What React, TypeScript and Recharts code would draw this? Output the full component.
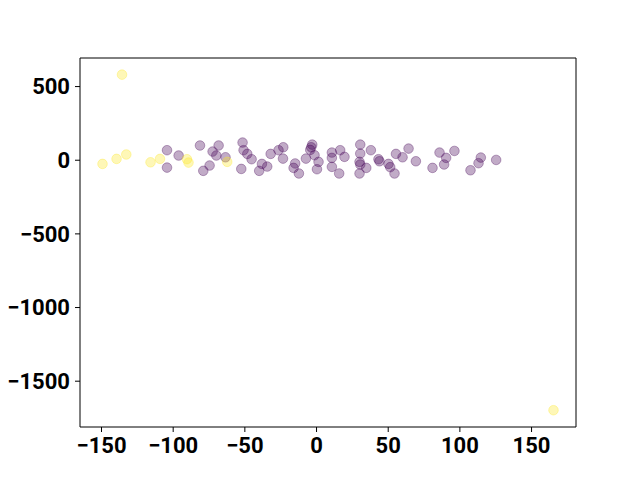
import React from 'react';
import { ScatterChart, Scatter, XAxis, YAxis, ReferenceLine } from 'recharts';

const purpleX = [-104.3, -104.3, -96.2, -81.3, -79, -74.6, -72.5, -69.9, -68.3, -63.5, -52.5, -51.6, -50.9, -48.3, -45.3, -40, -38.1, -34.4, -32, -26.5, -23.2, -23.4, -14.9, -16, -12.3, -7.4, -4.4, -3, -1.4, 1.4, 0.3, 10.7, 10.7, 10.7, 16.5, 19.5, 15.8, 30.5, 30.5, 30, 30.5, 34.7, 30, 37.9, 43.2, 43.9, 50.2, 51.4, 54.4, 55.4, 60, 64.2, 69.3, 80.9, 85.8, 90.4, 89, 96.2, 107.4, 113, 114.6, 125.3, -3.7];
const purpleY = [68, -50, 32, 100, -72, -36, 59, 32, 100, 20, -59, 120, 68, 43, 7, -72, -25, -43, 43, 68, 88, 11, -22, -52, -90, 11, 70, 106, 34, -11, -61, 52, 16, -45, 68, 23, -90, 106, 45, -11, -29, -52, -90, 68, 7, -7, -25, -47, -90, 43, 20, 79, -7, -52, 52, 16, -29, 63, -68, -20, 18, 2, 88];
const yellowX = [-149.3, -139.5, -132.7, -115.8, -109.2, -90.4, -89.3, -62.3, -135.7, 165.3];
const yellowY = [-25, 9, 39, -14, 9, 7, -16, -11, 581, -1697];

const xTicks = [-150, -100, -50, 0, 50, 100, 150];
const yTicks = [-1500, -1000, -500, 0, 500];
const xDomain = [-165, 181];
const yDomain = [-1811, 694];

const purpleData = purpleX.map((x, i) => ({ x, y: purpleY[i] }));
const yellowData = yellowX.map((x, i) => ({ x, y: yellowY[i] }));

const tickStyle = { fontFamily: 'Roboto', fontWeight: 700, fontSize: 22, fill: '#000' };
const fmt = (v: number) => String(v).replace('-', '\u2212');

const makeDot = (color: string) => (props: any) => (
  <circle cx={props.cx} cy={props.cy} r={4.8} fill={color} fillOpacity={0.33} stroke={color} strokeOpacity={0.33} strokeWidth={1} />
);

export default function App() {
  return (
    <div style={{ position: 'absolute', left: 0, top: 0, width: 640, height: 480, background: '#fff' }}>
      <ScatterChart width={640} height={480} margin={{ top: 58, right: 64, bottom: 0, left: 0 }}>
        <XAxis
          type="number"
          dataKey="x"
          domain={xDomain}
          ticks={xTicks}
          allowDataOverflow
          height={53}
          tickSize={5}
          tickMargin={5}
          tick={tickStyle}
          tickFormatter={fmt}
          axisLine={{ stroke: '#000', strokeWidth: 1 }}
          tickLine={{ stroke: '#000', strokeWidth: 1 }}
          interval={0}
        />
        <YAxis
          type="number"
          dataKey="y"
          domain={yDomain}
          ticks={yTicks}
          allowDataOverflow
          width={80}
          tickSize={5}
          tickMargin={5}
          tick={tickStyle}
          tickFormatter={fmt}
          axisLine={{ stroke: '#000', strokeWidth: 1 }}
          tickLine={{ stroke: '#000', strokeWidth: 1 }}
          interval={0}
        />
        <ReferenceLine x={xDomain[1]} stroke="#000" strokeWidth={1} ifOverflow="extendDomain" />
        <ReferenceLine y={yDomain[1]} stroke="#000" strokeWidth={1} ifOverflow="extendDomain" />
        <Scatter data={purpleData} shape={makeDot('#440154')} isAnimationActive={false} />
        <Scatter data={yellowData} shape={makeDot('#fde725')} isAnimationActive={false} />
      </ScatterChart>
    </div>
  );
}
